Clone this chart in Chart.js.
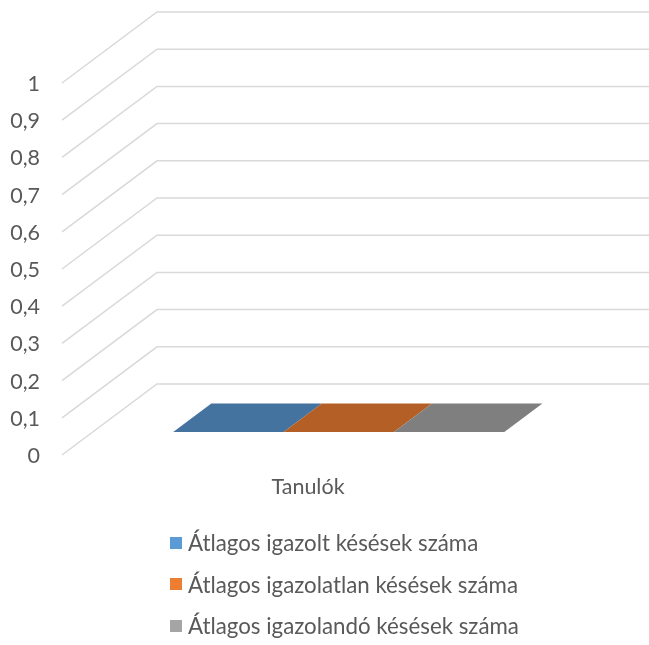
<!DOCTYPE html>
<html>
<head>
<meta charset="utf-8">
<script src="https://cdn.jsdelivr.net/npm/chart.js@4.4.1/dist/chart.umd.min.js"></script>
<style>
  html, body { margin: 0; padding: 0; background: #ffffff; }
  #wrap { position: relative; width: 649px; height: 645px; overflow: hidden; }
  #c { position: absolute; left: 0; top: 0; }
  #legend { position: absolute; left: 170px; top: 522px; font-family: Lato, "Open Sans", sans-serif; font-size: 22.3px; color: #595959; }
  .item { display: flex; align-items: center; height: 41.5px; white-space: nowrap; }
  .sw { width: 12px; height: 12px; margin-right: 6px; flex: none; }
</style>
</head>
<body>
<div id="wrap">
  <canvas id="c" width="649" height="645"></canvas>
  <div id="legend"></div>
</div>
<script>
// ---- data ----
const categories = ['Tanulók'];
const seriesNames = [
  'Átlagos igazolt késések száma',
  'Átlagos igazolatlan késések száma',
  'Átlagos igazolandó késések száma'
];
const igazoltValues = [0];
const igazolatlanValues = [0];
const igazolandoValues = [0];
const yMin = 0;
const yMax = 1;
const yStep = 0.1;

// ---- styles ----
const legendColors = ['#5B9BD5', '#ED7D31', '#A5A5A5'];
const topColors = ['#45739F', '#B45F25', '#7F7F7F'];
const frontColors = ['#4F85B8', '#CC6B29', '#8E8E8E'];
const sideColors = ['#3D6790', '#A2561F', '#737373'];
const DX = 95, DY = -71;           // 3D depth offset of the back wall
const T_FRONT = 0.324, T_BACK = 0.725; // depth fractions of bar front/back
const textColor = '#595959';
const fontFamily = 'Lato, "Open Sans", sans-serif';
const fontSize = 21.5;

const depth3d = {
  id: 'depth3d',
  beforeDatasetsDraw(chart) {
    const { ctx, chartArea } = chart;
    const y = chart.scales.y;
    ctx.save();
    ctx.strokeStyle = '#D9D9D9';
    ctx.lineWidth = 1.5;
    y.ticks.forEach(t => {
      const py = y.getPixelForValue(t.value);
      ctx.beginPath();
      ctx.moveTo(chartArea.left, py);
      ctx.lineTo(chartArea.left + DX, py + DY);
      ctx.lineTo(chart.width + 2, py + DY);
      ctx.stroke();
    });
    chart.data.datasets.forEach((ds, i) => {
      const meta = chart.getDatasetMeta(i);
      meta.data.forEach(bar => {
        const p = bar.getProps(['x', 'y', 'base', 'width'], true);
        const l = p.x - p.width / 2, r = p.x + p.width / 2;
        const top = p.y, base = p.base;
        const fx = DX * T_FRONT, fy = DY * T_FRONT;
        const bx = DX * T_BACK, by = DY * T_BACK;
        const h = base - top;
        if (h > 0.5) {
          ctx.fillStyle = sideColors[i];
          ctx.beginPath();
          ctx.moveTo(r + fx, base + fy);
          ctx.lineTo(r + bx, base + by);
          ctx.lineTo(r + bx, top + by);
          ctx.lineTo(r + fx, top + fy);
          ctx.closePath();
          ctx.fill();
          ctx.fillStyle = frontColors[i];
          ctx.fillRect(l + fx, top + fy, r - l, h);
        }
        ctx.fillStyle = topColors[i];
        ctx.beginPath();
        ctx.moveTo(l + fx, top + fy);
        ctx.lineTo(r + fx, top + fy);
        ctx.lineTo(r + bx, top + by);
        ctx.lineTo(l + bx, top + by);
        ctx.closePath();
        ctx.fill();
      });
    });
    ctx.restore();
    return false;
  }
};

const valueSets = [igazoltValues, igazolatlanValues, igazolandoValues];
const chart = new Chart(document.getElementById('c'), {
  type: 'bar',
  data: {
    labels: categories,
    datasets: seriesNames.map((name, i) => ({
      label: name,
      data: valueSets[i],
      backgroundColor: legendColors[i],
      categoryPercentage: 0.673,
      barPercentage: 1.0
    }))
  },
  options: {
    responsive: false,
    animation: false,
    devicePixelRatio: 1,
    layout: { padding: { left: 0, top: 83, right: 95, bottom: 130 } },
    plugins: { legend: { display: false }, tooltip: { enabled: false } },
    scales: {
      x: {
        grid: { display: false, drawTicks: false },
        border: { display: false },
        ticks: { color: textColor, font: { family: fontFamily, size: fontSize }, padding: 19 },
        afterFit: s => { s.height = 60; }
      },
      y: {
        min: yMin, max: yMax,
        grid: { display: false, drawTicks: false },
        border: { display: false },
        ticks: {
          stepSize: yStep,
          color: textColor,
          font: { family: fontFamily, size: fontSize },
          padding: 22,
          labelOffset: 1,
          callback: v => String(Math.round(v * 10) / 10).replace('.', ',')
        },
        afterFit: s => { s.width = 62; }
      }
    }
  },
  plugins: [depth3d]
});

const legendEl = document.getElementById('legend');
chart.data.datasets.forEach(ds => {
  const item = document.createElement('div');
  item.className = 'item';
  const sw = document.createElement('span');
  sw.className = 'sw';
  sw.style.background = ds.backgroundColor;
  const tx = document.createElement('span');
  tx.textContent = ds.label;
  item.appendChild(sw);
  item.appendChild(tx);
  legendEl.appendChild(item);
});
</script>
</body>
</html>
